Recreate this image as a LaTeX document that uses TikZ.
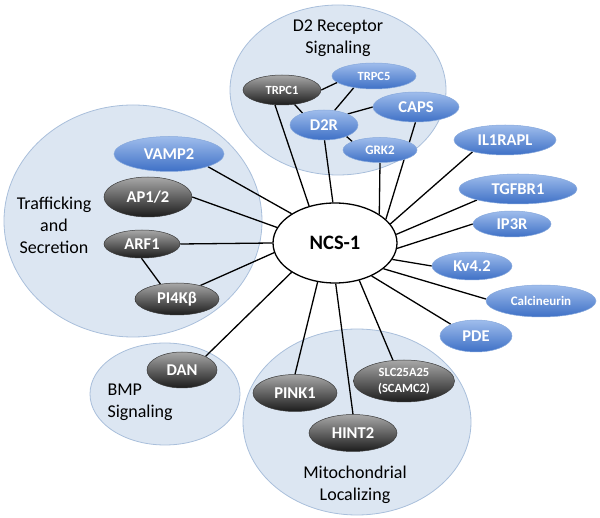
\documentclass[tikz,border=0pt]{standalone}
\usepackage{fontspec}
\setmainfont{Carlito}
\usetikzlibrary{shapes.geometric}
\pgfdeclarelayer{bg}
\pgfdeclarelayer{edges}
\pgfsetlayers{bg,edges,main}
\definecolor{grpfill}{HTML}{DCE6F2}
\definecolor{grpborder}{HTML}{A9BFDB}
\definecolor{bluetop}{HTML}{9FBDEC}
\definecolor{bluebot}{HTML}{3E70C6}
\definecolor{blueborder}{HTML}{86A8DC}
\definecolor{darktop}{HTML}{A8A8A8}
\definecolor{darkbot}{HTML}{1C1C1C}
\definecolor{darkborder}{HTML}{3A3A3A}
\tikzset{
  group/.style={draw=grpborder, fill=grpfill, line width=0.8pt},
  prot/.style={ellipse, inner sep=0pt, text=white, font=\bfseries\fontsize{16.5}{18}\selectfont},
  bluep/.style={prot, top color=bluetop, bottom color=bluebot, draw=blueborder, line width=0.5pt},
  darkp/.style={prot, top color=darktop, bottom color=darkbot, draw=darkborder, line width=0.5pt},
  smalltext/.style={font=\bfseries\fontsize{12.5}{16}\selectfont},
  midtext/.style={font=\bfseries\fontsize{13}{16}\selectfont},
  link/.style={line width=1.3pt, black},
  lbl/.style={font=\fontsize{18}{22}\selectfont, align=center, text=black},
}
\begin{document}
\begin{tikzpicture}[x=1pt,y=-1pt]
\useasboundingbox (0,0) rectangle (600,518);
% group circles
\begin{pgfonlayer}{bg}
  \draw[group] (338,90) ellipse [x radius=108pt, y radius=85pt];
  \draw[group] (133,221) ellipse [x radius=129pt, y radius=116pt];
  \draw[group] (165,394) ellipse [x radius=75pt, y radius=51pt];
  \draw[group] (357,422) ellipse [x radius=114pt, y radius=93pt];
\end{pgfonlayer}
% labels
\node[lbl] (d2lbl) at (338,38) {D2 Receptor\\Signaling};
\node[lbl] (trlbl) at (54,225) {Trafficking\\and\\Secretion};
\node[lbl, align=left, anchor=west] (bmplbl) at (104,402) {BMP\\Signaling};
\node[lbl] (mitolbl) at (355,485) {Mitochondrial\\Localizing};
% central node
\node[ellipse, draw=black, fill=white, line width=1.3pt, inner sep=0pt,
      minimum width=124pt, minimum height=80pt,
      font=\bfseries\fontsize{20.5}{22}\selectfont] (ncs) at (335,243) {NCS-1};
% D2 receptor group
\node[darkp, smalltext, minimum width=78pt, minimum height=30pt] (trpc1) at (282,90) {TRPC1};
\node[bluep, smalltext, minimum width=84pt, minimum height=26pt] (trpc5) at (374,76) {TRPC5};
\node[bluep, minimum width=86pt, minimum height=30pt] (caps) at (416,107) {CAPS};
\node[bluep, minimum width=68pt, minimum height=30pt] (d2r) at (324,125) {D2R};
\node[bluep, midtext, minimum width=74pt, minimum height=25pt] (grk2) at (380,150) {GRK2};
% trafficking group
\node[bluep, minimum width=110pt, minimum height=35pt] (vamp) at (169,154) {VAMP2};
\node[darkp, minimum width=88pt, minimum height=40pt] (ap) at (148,197) {AP1/2};
\node[darkp, minimum width=76pt, minimum height=28pt] (arf) at (142,244) {ARF1};
\node[darkp, minimum width=84pt, minimum height=32pt] (pi4k) at (177,299) {PI4Kβ};
% BMP
\node[darkp, minimum width=70pt, minimum height=36pt] (dan) at (182,370) {DAN};
% mitochondrial
\node[darkp, minimum width=84pt, minimum height=37pt] (pink) at (295,393) {PINK1};
\node[darkp, smalltext, align=center, minimum width=101pt, minimum height=42pt] (slc) at (404,381) {SLC25A25\\(SCAMC2)};
\node[darkp, minimum width=88pt, minimum height=37pt] (hint) at (353,433) {HINT2};
% right side
\node[bluep, minimum width=102pt, minimum height=30pt] (il1) at (505,140) {IL1RAPL};
\node[bluep, minimum width=118pt, minimum height=30pt] (tgf) at (518,189) {TGFBR1};
\node[bluep, minimum width=78pt, minimum height=26pt] (ip3r) at (512,224) {IP3R};
\node[bluep, minimum width=80pt, minimum height=28pt] (kv) at (472,266) {Kv4.2};
\node[bluep, midtext, minimum width=110pt, minimum height=32pt] (calc) at (541,301) {Calcineurin};
\node[bluep, minimum width=72pt, minimum height=32pt] (pde) at (476,336) {PDE};
% connectors
\begin{pgfonlayer}{edges}
  \draw[link] (ncs.125) -- (trpc1.245);
  \draw[link] (ncs.93) -- (d2r.272);
  \draw[link] (ncs.33) -- (grk2.270);
  \draw[link] (ncs.25) -- (caps.268);
  \draw[link] (ncs.19) -- (il1.200);
  \draw[link] (ncs.8) -- (tgf.195);
  \draw[link] (ncs.355) -- (ip3r.180);
  \draw[link] (ncs.344) -- (kv.180);
  \draw[link] (ncs.332) -- (calc.178);
  \draw[link] (ncs.318) -- (pde.155);
  \draw[link] (ncs.303) -- (slc.118);
  \draw[link] (ncs.271) -- (hint.90);
  \draw[link] (ncs.246) -- (pink.90);
  \draw[link] (ncs.214) -- (dan.30);
  \draw[link] (ncs.189) -- (pi4k.30);
  \draw[link] (ncs.180) -- (arf.0);
  \draw[link] (ncs.165) -- (ap.0);
  \draw[link] (ncs.146) -- (vamp.342);
  \draw[link] (arf.268) -- (pi4k.138);
  \draw[link] (trpc1.0) -- (trpc5.190);
  \draw[link] (trpc1.311) -- (d2r.151);
  \draw[link] (trpc5.210) -- (d2r.54);
  \draw[link] (d2r.25) -- (caps.180);
  \draw[link] (d2r.333) -- (grk2.163);
\end{pgfonlayer}
\end{tikzpicture}
\end{document}
